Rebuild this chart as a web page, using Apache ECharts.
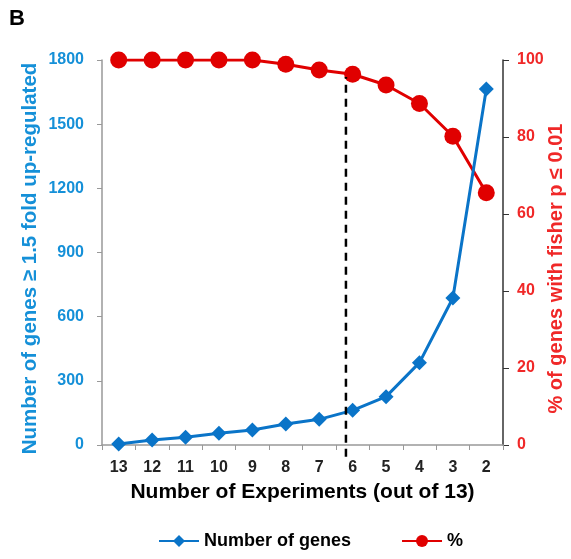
<!DOCTYPE html>
<html><head><meta charset="utf-8">
<script src="https://cdn.jsdelivr.net/npm/echarts@6/dist/echarts.min.js"></script>
<style>html,body{margin:0;padding:0;background:#fff}#c{width:571px;height:559px}</style>
</head><body><div id="c"></div>
<script>
const categories = ['13','12','11','10','9','8','7','6','5','4','3','2'];
const geneCounts = [5, 23, 36, 55, 70, 98, 120, 162, 226, 385, 687, 1664];
const percents = [100, 100, 100, 100, 100, 98.9, 97.4, 96.3, 93.5, 88.7, 80.2, 65.5];
const leftTicks = {min: 0, max: 1800, interval: 300};
const rightTicks = {min: 0, max: 100, interval: 20};
const dashedPos = 6.8;          // position on the category index scale
const dashedRange = [-55, 1720];  // in gene-count units

const blue = '#0a74c8';
const blueText = '#1590d8';
const red = '#e00000';
const redText = '#f02828';
const FONT = 'Liberation Sans, Arial, sans-serif';

const chart = echarts.init(document.getElementById('c'));
chart.setOption({
  animation: false,
  graphic: [{type: 'text', left: 9, top: 8, style: {text: 'B', font: 'bold 22px ' + FONT, fill: '#000'}}],
  legend: {
    bottom: 4, left: 153, itemWidth: 40, itemHeight: 15, itemGap: 50,
    textStyle: {fontFamily: FONT, fontWeight: 'bold', fontSize: 18, color: '#000'},
    data: ['Number of genes', '%']
  },
  grid: {left: 102, right: 68, top: 60, bottom: 114, containLabel: false, outerBoundsMode: 'none'},
  xAxis: [{
    type: 'category', data: categories, boundaryGap: true,
    name: 'Number of Experiments (out of 13)', nameLocation: 'middle', nameGap: 37, nameMoveOverlap: false,
    nameTextStyle: {fontFamily: FONT, fontWeight: 'bold', fontSize: 21, color: '#000'},
    axisLine: {onZero: false, lineStyle: {color: '#999', width: 1.5}},
    axisTick: {show: true, alignWithLabel: false, length: 5, lineStyle: {color: '#999'}},
    axisLabel: {fontFamily: FONT, fontWeight: 'bold', fontSize: 16, color: '#222', margin: 15}
  }, {
    type: 'value', min: -0.5, max: 11.5, show: false
  }],
  yAxis: [{
    type: 'value', min: leftTicks.min, max: leftTicks.max, interval: leftTicks.interval,
    name: 'Number of genes \u2265 1.5 fold up-regulated', nameLocation: 'middle', nameGap: 61, nameRotate: 90,
    nameMoveOverlap: false,
    nameTextStyle: {fontFamily: FONT, fontWeight: 'bold', fontSize: 20.5, color: blueText, padding: [0, 12, 0, 0]},
    splitLine: {show: false},
    axisLine: {show: true, onZero: false, lineStyle: {color: '#999', width: 1.5}},
    axisTick: {show: true, length: 5, lineStyle: {color: '#999'}},
    axisLabel: {fontFamily: FONT, fontWeight: 'bold', fontSize: 16, color: blueText, margin: 18,
      formatter: v => String(v)}
  }, {
    type: 'value', min: rightTicks.min, max: rightTicks.max, interval: rightTicks.interval, position: 'right',
    name: '% of genes with fisher p \u2264 0.01', nameLocation: 'middle', nameGap: 43, nameRotate: 90,
    nameMoveOverlap: false,
    nameTextStyle: {fontFamily: FONT, fontWeight: 'bold', fontSize: 20, color: redText, padding: [0, 32, 0, 0]},
    splitLine: {show: false},
    axisLine: {show: true, onZero: false, lineStyle: {color: '#333', width: 1.5}},
    axisTick: {show: true, length: 6, lineStyle: {color: '#333'}},
    axisLabel: {fontFamily: FONT, fontWeight: 'bold', fontSize: 16, color: redText, margin: 14}
  }],
  series: [{
    name: 'Number of genes', type: 'line', data: geneCounts, yAxisIndex: 0,
    symbol: 'diamond', symbolSize: 15, z: 3,
    lineStyle: {color: blue, width: 3}, itemStyle: {color: blue}
  }, {
    name: '%', type: 'line', data: percents, yAxisIndex: 1,
    symbol: 'circle', symbolSize: 17, z: 2,
    lineStyle: {color: red, width: 3}, itemStyle: {color: red}
  }, {
    name: 'cut', type: 'line', xAxisIndex: 1, yAxisIndex: 0, clip: false,
    data: [[dashedPos, dashedRange[0]], [dashedPos, dashedRange[1]]],
    symbol: 'none', z: 4,
    lineStyle: {color: '#000', width: 2.5, type: [8, 6]}
  }]
});
</script></body></html>
